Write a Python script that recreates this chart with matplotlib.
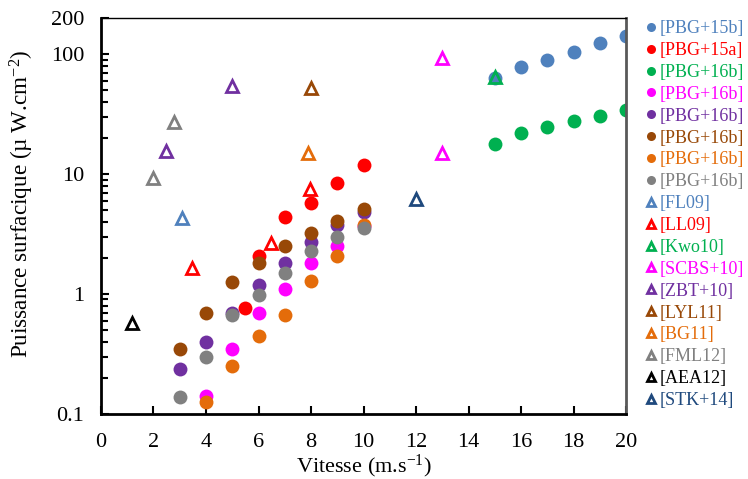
import numpy as np
import matplotlib
matplotlib.use('Agg')
import matplotlib.pyplot as plt
from matplotlib.ticker import FixedLocator, NullFormatter, LogLocator

plt.rcParams['font.family'] = ['Liberation Serif', 'DejaVu Serif']
plt.rcParams['mathtext.fontset'] = 'custom'
plt.rcParams['mathtext.rm'] = 'Liberation Serif'
plt.rcParams['mathtext.it'] = 'Liberation Serif:italic'

# measured series (vitesse m/s, puissance uW/cm2)
pbg15b_x = [15, 16, 17, 18, 19, 20]
pbg15b_y = [64, 79, 89, 104, 124, 142]
pbg15a_x = [5.5, 6, 7, 8, 9, 10]
pbg15a_y = [0.77, 2.09, 4.4, 5.7, 8.5, 11.9]
pbg16_green_x = [15, 16, 17, 18, 19, 20]
pbg16_green_y = [17.9, 22, 24.8, 27.8, 30.8, 34.6]
pbg16_mag_x = [4, 5, 6, 7, 8, 9, 10]
pbg16_mag_y = [0.14, 0.35, 0.70, 1.10, 1.8, 2.5, 3.7]
pbg16_purple_x = [3, 4, 5, 6, 7, 8, 9, 10]
pbg16_purple_y = [0.235, 0.40, 0.70, 1.2, 1.8, 2.7, 3.76, 4.8]
pbg16_brown_x = [3, 4, 5, 6, 7, 8, 9, 10]
pbg16_brown_y = [0.346, 0.70, 1.27, 1.80, 2.5, 3.2, 4.1, 5.1]
pbg16_orange_x = [4, 5, 6, 7, 8, 9, 10]
pbg16_orange_y = [0.125, 0.25, 0.447, 0.67, 1.29, 2.09, 3.8]
pbg16_gray_x = [3, 4, 5, 6, 7, 8, 9, 10]
pbg16_gray_y = [0.139, 0.30, 0.67, 0.99, 1.49, 2.28, 2.97, 3.57]

# literature points
fl09_x, fl09_y = [3.09], [4.3]
ll09_x, ll09_y = [3.48, 6.48, 7.96], [1.66, 2.64, 7.45]
kwo10_x, kwo10_y = [15], [65]
scbs10_x, scbs10_y = [13, 13], [93, 14.9]
zbt10_x, zbt10_y = [2.48, 5], [15.6, 54]
lyl11_x, lyl11_y = [8], [52]
bg11_x, bg11_y = [7.87], [14.9]
fml12_x, fml12_y = [1.98, 2.77], [9.3, 27.3]
aea12_x, aea12_y = [1.17], [0.577]
stk14_x, stk14_y = [12], [6.2]

circles = [
    (pbg15b_x, pbg15b_y, '#4f81bd', '[PBG+15b]'),
    (pbg15a_x, pbg15a_y, '#ff0000', '[PBG+15a]'),
    (pbg16_green_x, pbg16_green_y, '#00b050', '[PBG+16b]'),
    (pbg16_mag_x, pbg16_mag_y, '#ff00ff', '[PBG+16b]'),
    (pbg16_purple_x, pbg16_purple_y, '#7030a0', '[PBG+16b]'),
    (pbg16_brown_x, pbg16_brown_y, '#984807', '[PBG+16b]'),
    (pbg16_orange_x, pbg16_orange_y, '#e46c0a', '[PBG+16b]'),
    (pbg16_gray_x, pbg16_gray_y, '#808080', '[PBG+16b]'),
]
triangles = [
    (fl09_x, fl09_y, '#4f81bd', '[FL09]'),
    (ll09_x, ll09_y, '#ff0000', '[LL09]'),
    (kwo10_x, kwo10_y, '#00b050', '[Kwo10]'),
    (scbs10_x, scbs10_y, '#ff00ff', '[SCBS+10]'),
    (zbt10_x, zbt10_y, '#7030a0', '[ZBT+10]'),
    (lyl11_x, lyl11_y, '#984807', '[LYL11]'),
    (bg11_x, bg11_y, '#e46c0a', '[BG11]'),
    (fml12_x, fml12_y, '#808080', '[FML12]'),
    (aea12_x, aea12_y, '#000000', '[AEA12]'),
    (stk14_x, stk14_y, '#1f497d', '[STK+14]'),
]

fig = plt.figure(figsize=(7.48, 4.79), dpi=100)
ax = fig.add_axes([0.135, 0.136, 0.702, 0.826])

for x, y, c, lab in circles:
    ax.plot(x, y, 'o', color=c, markersize=10, markeredgewidth=0, label=lab)
for x, y, c, lab in triangles:
    ax.plot(x, y, '^', color=c, markerfacecolor='none', markersize=8,
            markeredgewidth=2, label=lab)

ax.set_yscale('log')
ax.set_xlim(0, 20)
ax.set_ylim(0.1, 200)
ax.set_xticks(np.arange(0, 21, 2))
ax.yaxis.set_major_locator(FixedLocator([0.1, 1, 10, 100, 200]))
ax.set_yticklabels(['0.1', '1', '10', '100', '200'])
ax.yaxis.set_minor_locator(LogLocator(base=10, subs=np.arange(2, 10)))
ax.yaxis.set_minor_formatter(NullFormatter())
ax.tick_params(axis='both', which='both', direction='in', labelsize=16, width=1.5)
ax.tick_params(axis='x', which='major', length=6, pad=14)
ax.tick_params(axis='y', which='major', length=6, pad=12)
ax.tick_params(axis='y', which='minor', length=5)

for s in ['left', 'bottom']:
    ax.spines[s].set_linewidth(2)
ax.spines['top'].set_linewidth(1)
ax.spines['right'].set_linewidth(2)
ax.spines['right'].set_color('#595959')

ax.set_xlabel('Vitesse (m.s$^{-1}$)', fontsize=16, labelpad=0)
ax.set_ylabel('Puissance surfacique (µ W.cm$^{-2}$)', fontsize=16.7)
ax.yaxis.set_label_coords(-0.124, 0.53)

leg = ax.legend(loc='upper left', bbox_to_anchor=(0.854, 0.973),
                bbox_transform=fig.transFigure, frameon=False, fontsize=13,
                markerscale=0.65, handlelength=0.6, handletextpad=0.15,
                labelspacing=0.27, borderaxespad=0)
for txt, h in zip(leg.get_texts(), leg.legend_handles):
    txt.set_color(h.get_color())

fig.savefig('out.png', dpi=100)
